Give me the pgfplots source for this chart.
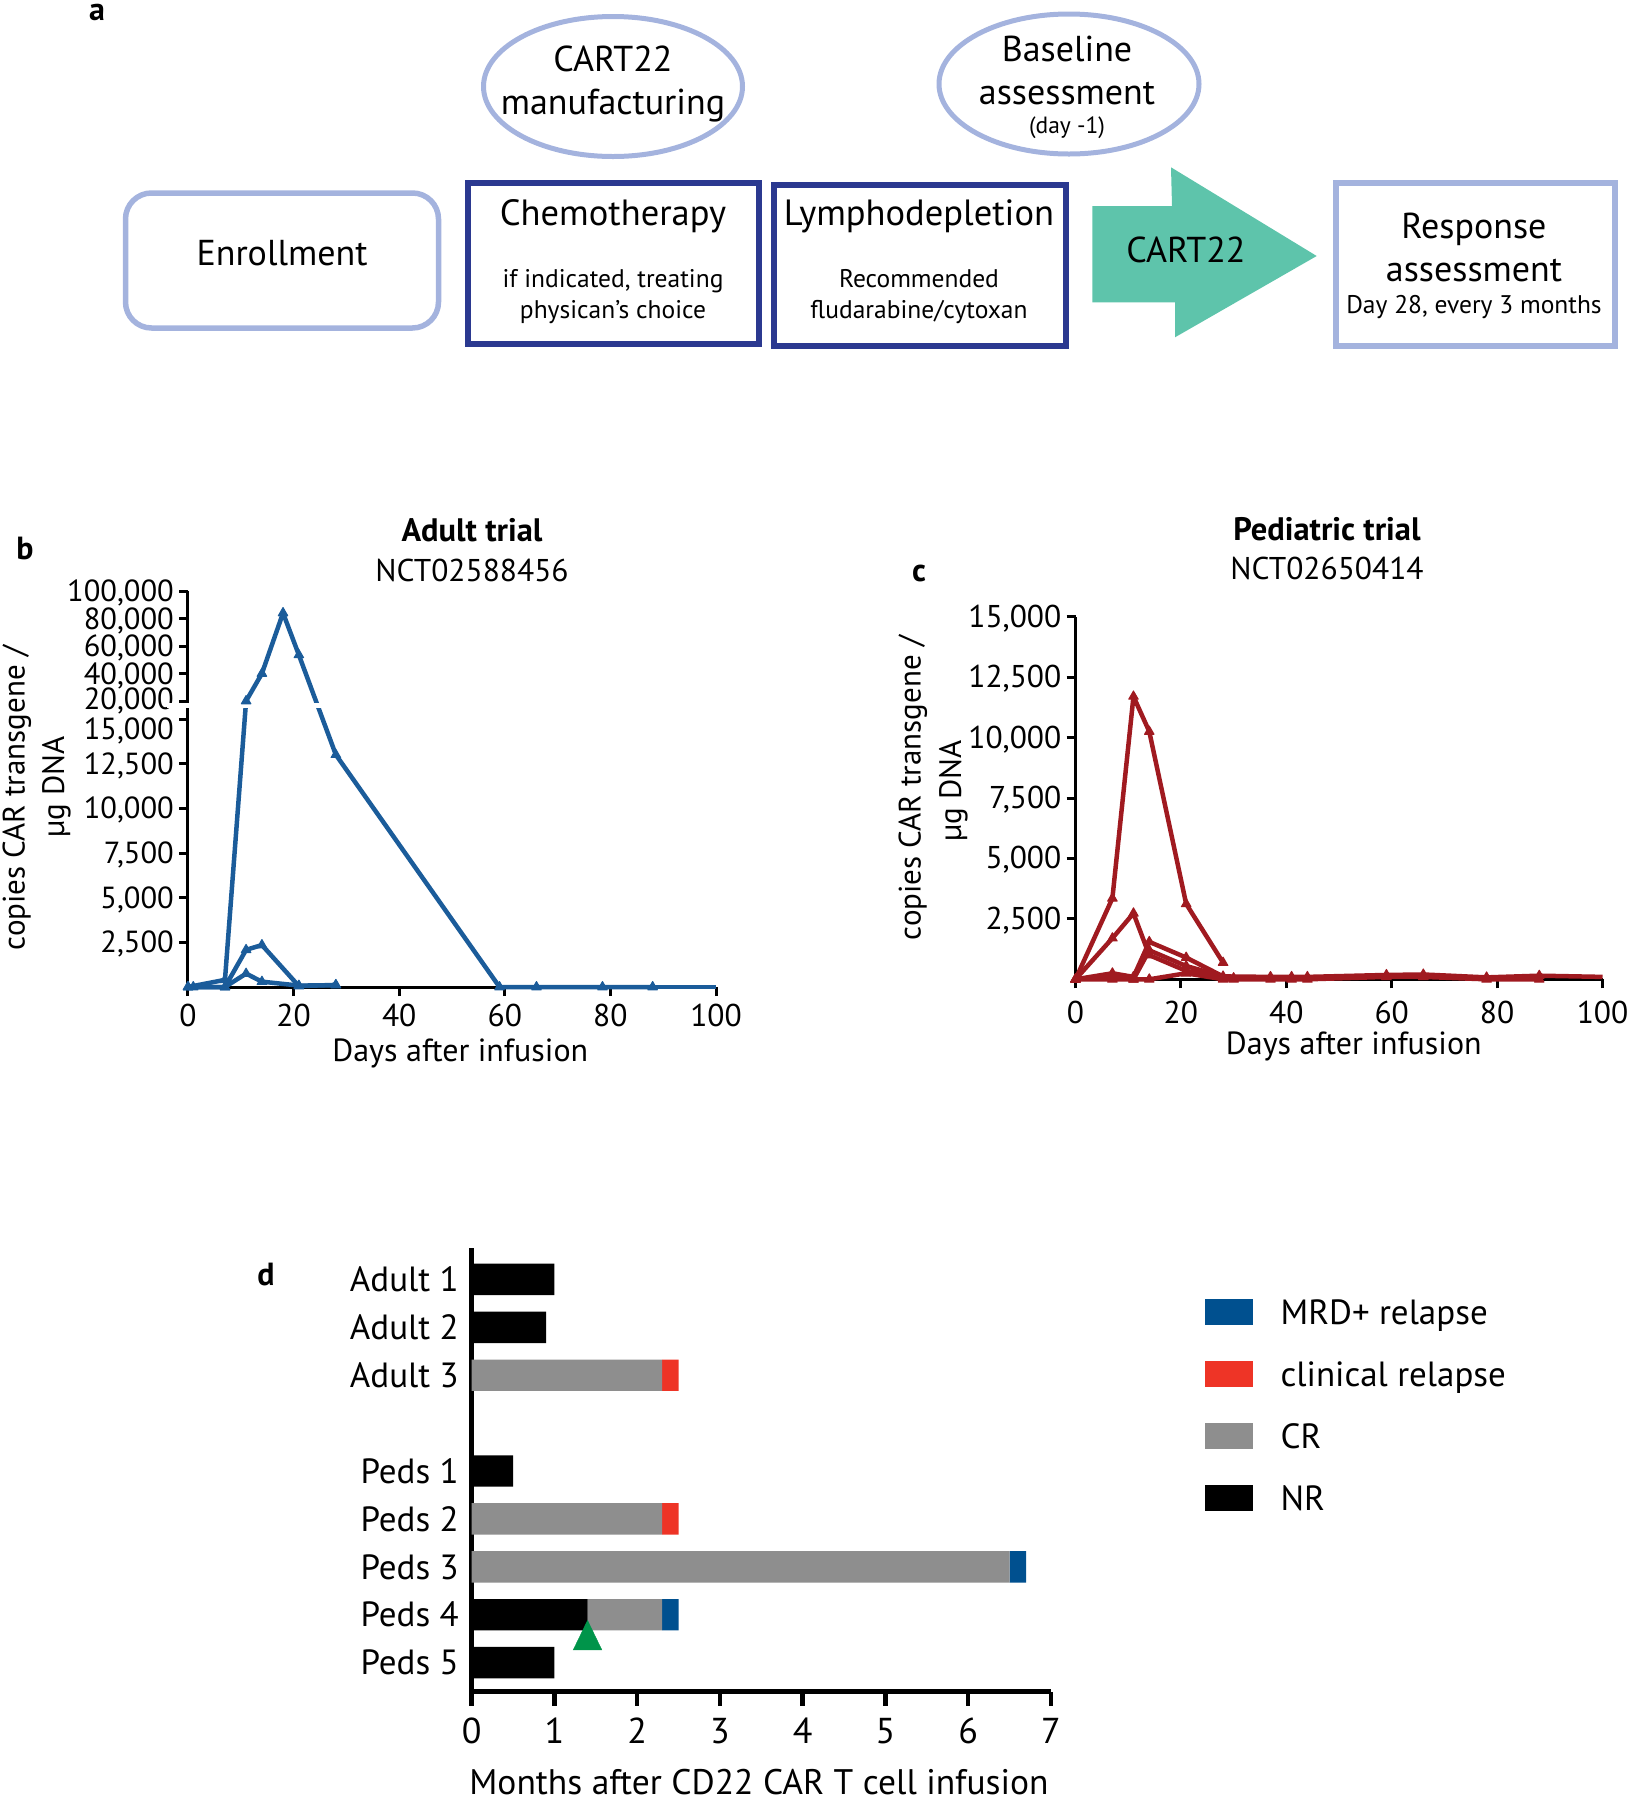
\documentclass[border=0pt]{standalone}
\usepackage{fontspec}
\setmainfont{PT Sans}
\usepackage{pgfplots}
\pgfplotsset{compat=1.18}
\definecolor{lav}{HTML}{A4B3DE}
\definecolor{navy}{HTML}{2B3990}
\definecolor{arrowteal}{HTML}{5EC4AB}
\definecolor{adultblue}{HTML}{1B5C9A}
\definecolor{pedsred}{HTML}{A01A20}
\definecolor{mrdblue}{HTML}{00508F}
\definecolor{relred}{HTML}{EE3426}
\definecolor{crgray}{HTML}{8E8E8E}
\definecolor{mkgreen}{HTML}{00944A}
\newcommand\fs[1]{\fontsize{#1}{#1}\selectfont}
\pgfplotsset{
  bser/.style={color=adultblue, line width=4.5pt, line join=round, mark=triangle*, mark size=5.5pt, mark options={solid, line width=1pt}},
  cser/.style={color=pedsred, line width=4.5pt, line join=round, mark=triangle*, mark size=5.5pt, mark options={solid, line width=1pt}},
  legsq/.style={legend image code/.code={\fill[##1] (0pt,-12pt) rectangle (48pt,13.7pt); \path[draw=none,fill=none] (48pt,0pt) rectangle (75.5pt,0.1pt);}},
  lineaxis/.style={scale only axis, axis lines*=left, clip=false,
    axis line style={line width=3pt, black}, tick style={line width=3pt, black},
    major tick length=9pt, tick align=outside,
    tick label style={font=\fs{31.5}}, /pgf/number format/assume math mode=true,
    yticklabel style={inner sep=0pt, text height=21pt, text depth=0pt, xshift=-5pt},
    scaled y ticks=false, scaled x ticks=false,
    xmin=0, xmax=100, xtick={0,20,...,100}},
}
\begin{document}
\begin{tikzpicture}
\path[use as bounding box] (0pt,0pt) rectangle (1631pt,-1800pt);
\begin{scope}[x=1pt,y=-1pt]
% ---------- panel a ----------
\node[anchor=base,font=\bfseries\fs{32}] at (97,20) {a};
\draw[lav,line width=5pt] (613,86.5) ellipse [x radius=129.5pt, y radius=70pt];
\draw[lav,line width=5pt] (1069,84) ellipse [x radius=130pt, y radius=70pt];
\draw[lav,line width=5.5pt,rounded corners=26pt] (125.5,193) rectangle (438.5,328);
\draw[navy,line width=6pt] (468,183.3) rectangle (758.7,344.3);
\draw[navy,line width=6pt] (774,184.7) rectangle (1065.7,345.7);
\draw[lav,line width=6pt] (1336,183.3) rectangle (1615,346.3);
\fill[arrowteal] (1092.3,206) -- (1172,206) -- (1171,167.3) -- (1316.7,256) -- (1175,337.3) -- (1175,302.3) -- (1092.3,302.3) -- cycle;
\node[anchor=base,font=\fs{36}] at (613,71) {CART22};
\node[anchor=base,font=\fs{36}] at (613,114.5) {manufacturing};
\node[anchor=base,font=\fs{36}] at (1067,61) {Baseline};
\node[anchor=base,font=\fs{36}] at (1067,104.5) {assessment};
\node[anchor=base,font=\fs{23.5}] at (1067,133) {(day -1)};
\node[anchor=base,font=\fs{36}] at (282,265) {Enrollment};
\node[anchor=base,font=\fs{36.5}] at (613,225.5) {Chemotherapy};
\node[anchor=base,font=\fs{25.5}] at (613,287) {if indicated, treating};
\node[anchor=base,font=\fs{25.5}] at (613,318) {physican’s choice};
\node[anchor=base,font=\fs{36.5}] at (919,225.5) {Lymphodepletion};
\node[anchor=base,font=\fs{25.5}] at (919,287) {Recommended};
\node[anchor=base,font=\fs{25.5}] at (919,318) {fludarabine/cytoxan};
\node[anchor=base,font=\fs{36}] at (1186,262) {CART22};
\node[anchor=base,font=\fs{36}] at (1474,238.5) {Response};
\node[anchor=base,font=\fs{36}] at (1474,281.5) {assessment};
\node[anchor=base,font=\fs{25.5}] at (1474,313) {Day 28, every 3 months};
% ---------- titles and labels ----------
\node[anchor=base,font=\bfseries\fs{32}] at (25,559) {b};
\node[anchor=base,font=\bfseries\fs{32}] at (919,581) {c};
\node[anchor=base,font=\bfseries\fs{32}] at (266,1285.5) {d};
\node[anchor=base,font=\bfseries\fs{32.5}] at (472,541.7) {Adult trial};
\node[anchor=base,font=\fs{31.5}] at (472,581.7) {NCT02588456};
\node[anchor=base,font=\bfseries\fs{32.5}] at (1327,540.6) {Pediatric trial};
\node[anchor=base,font=\fs{31.5}] at (1327,579.6) {NCT02650414};
\node[anchor=base,rotate=90,font=\fs{31}] at (24.5,798) {copies CAR transgene /};
\node[anchor=base,rotate=90,font=\fs{31}] at (64,787) {µg DNA};
\node[anchor=base,rotate=90,font=\fs{31}] at (920.5,788) {copies CAR transgene /};
\node[anchor=base,rotate=90,font=\fs{31}] at (961,791) {µg DNA};
\node[anchor=base,font=\fs{32}] at (460.3,1061.7) {Days after infusion};
\node[anchor=base,font=\fs{32}] at (1353.8,1054) {Days after infusion};
\node[anchor=base,font=\fs{35.5}] at (759,1794) {Months after CD22 CAR T cell infusion};
\end{scope}
% ---------- panel b ----------
\begin{axis}[lineaxis, at={(188pt,-987pt)}, anchor=south west, width=528pt, height=396pt,
  ymin=0, ymax=100000,
  y coord trafo/.code={\begingroup\pgfkeys{/pgf/fpu=true,/pgf/fpu/output format=fixed}%
    \pgfmathparse{(#1<=15000)*(#1)+(#1>15000)*(16007+(#1-20000)*0.07696)}%
    \pgfmathsmuggle\pgfmathresult\endgroup},
  xticklabel style={yshift=-4.5pt},
  yticklabel style={font=\fs{30.5}},
  ytick={2500,5000,7500,10000,12500,15000,20000,40000,60000,80000,100000},
  yticklabels={{2,500},{5,000},{7,500},{10,000},{12,500},{\raisebox{-10pt}{15,000}},{\raisebox{2.5pt}{20,000}},{40,000},{60,000},{80,000},{100,000}}]
\addplot[bser] coordinates {(0,0)(7,400)(11,20000)(14,40000)(18,84000)(21,53500)(28,13000)(59,0)(66,0)(78.5,0)(88,0)};
\addplot[bser, no marks] coordinates {(88,0)(100,0)};
\addplot[bser] coordinates {(1,0)(7,0)(11,2080)(14,2350)(21,50)(28,120)};
\addplot[bser] coordinates {(0,0)(7,0)(11,750)(14,300)(21,80)(28,100)};
\fill[white] (axis cs:-4,15123) rectangle (axis cs:104,18402);
\end{axis}
% ---------- panel c ----------
\begin{axis}[lineaxis, at={(1075.5pt,-979.3pt)}, anchor=south west, width=527pt, height=362.6pt,
  ymin=0, ymax=15000,
  xticklabel style={yshift=-9pt},
  ytick={2500,5000,7500,10000,12500,15000},
  yticklabels={{2,500},{5,000},{7,500},{10,000},{12,500},{15,000}}]
\addplot[cser] coordinates {(0,0)(7,3350)(11,11700)(14,10250)(21,3120)(28,690)};
\addplot[cser] coordinates {(0,0)(7,1700)(11,2730)(14,1000)(21,350)(28,50)(30,50)};
\addplot[cser] coordinates {(0,0)(7,250)(11,100)(14,1550)(21,900)(28,120)(37,100)(41,100)(44,100)(59,180)(66,200)(78,80)(88,150)};
\addplot[cser, no marks] coordinates {(88,150)(100,100)};
\addplot[cser] coordinates {(0,0)(7,0)(11,0)(14,1200)(21,550)(30,0)};
\addplot[cser] coordinates {(0,0)(7,150)(11,0)(14,0)(21,250)(28,0)(37,0)(41,0)(44,0)(59,100)(66,100)(78,0)(88,0)};
\end{axis}
% ---------- panel d ----------
\begin{axis}[at={(471.7pt,-1691.7pt)}, anchor=south west, scale only axis, width=579.2pt, height=444pt,
  xbar stacked, bar width=31.4pt,
  xmin=0, xmax=7, ymin=-0.607, ymax=8.662,
  axis lines*=left, axis line style={line width=4.6pt, black},
  xtick={0,...,7}, tick align=outside, major tick length=14pt,
  xtick style={line width=4.6pt, black}, ytick style={draw=none},
  xticklabel style={yshift=-9pt, font=\fs{36}},
  ytick={0,1,2,3,4,6,7,8},
  yticklabels={Peds 5,Peds 4,Peds 3,Peds 2,Peds 1,Adult 3,Adult 2,Adult 1},
  yticklabel style={font=\fs{35}, xshift=4.5pt}, /pgf/number format/assume math mode=true,
  reverse legend,
  legend style={at={(axis description cs:1.266,0.884)}, anchor=north west, draw=none, fill=none,
    inner sep=0pt, row sep=35pt, font=\fs{35}, nodes={inner sep=0pt}},
  legend cell align=left]
\addplot[fill=black, draw=none, legsq] coordinates {(1.0,8)(0.9,7)(0,6)(0.5,4)(0,3)(0,2)(1.4,1)(1.0,0)};
\addlegendentry{NR}
\addplot[fill=crgray, draw=none, legsq] coordinates {(0,8)(0,7)(2.3,6)(0,4)(2.3,3)(6.5,2)(0.9,1)(0,0)};
\addlegendentry{CR}
\addplot[fill=relred, draw=none, legsq] coordinates {(0,8)(0,7)(0.2,6)(0,4)(0.2,3)(0,2)(0,1)(0,0)};
\addlegendentry{clinical relapse}
\addplot[fill=mrdblue, draw=none, legsq] coordinates {(0,8)(0,7)(0,6)(0,4)(0,3)(0.2,2)(0.2,1)(0,0)};
\addlegendentry{MRD+ relapse}
\end{axis}
\begin{axis}[at={(471.7pt,-1691.7pt)}, anchor=south west, scale only axis, width=579.2pt, height=444pt,
  xmin=0, xmax=7, ymin=-0.607, ymax=8.662, hide axis, clip=false]
\addplot[only marks, mark=triangle*, mark size=19.7pt, color=mkgreen, mark options={xscale=0.84}] coordinates {(1.4,0.47)};
\end{axis}
\end{tikzpicture}
\end{document}
